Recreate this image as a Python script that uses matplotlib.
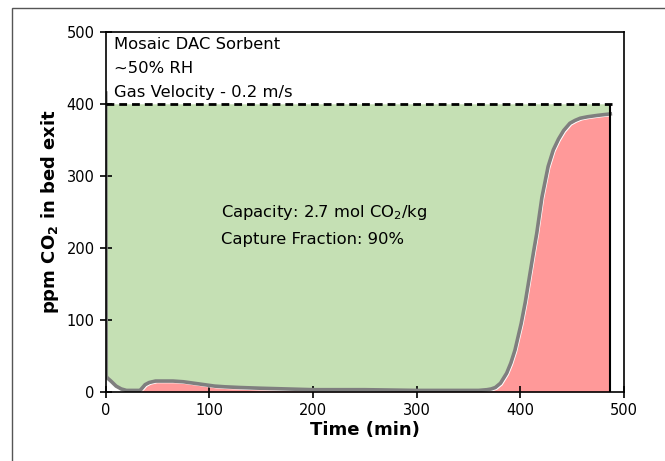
import matplotlib
matplotlib.use("Agg")
import matplotlib.pyplot as plt
import matplotlib.transforms as mtransforms
from matplotlib.patches import Rectangle
import numpy as np

# breakthrough curve
time_min = [0, 0.5, 1, 5, 10, 15, 20, 25, 33, 35, 38, 42, 48, 55, 65, 75, 85, 95,
            105, 115, 130, 150, 175, 200, 250, 300, 340, 360, 368, 372, 376, 381,
            387, 391, 395, 401, 405, 409, 413, 416, 421, 427, 432, 437, 442,
            448, 453, 458, 465, 475, 487]
ppm_co2 = [415, 22, 20, 15, 8, 4, 2, 2, 2, 5, 10, 13, 15, 15, 15, 14, 12, 10,
           8, 7, 6, 5, 4, 3, 3, 2, 2, 2, 3, 4, 6, 12,
           26, 40, 58, 95, 125, 160, 195, 220, 270, 313, 336, 351, 363,
           373, 377, 380, 382, 384, 386]
feed_ppm = 400
t_end = 487
red_start = 34

labels_top = ["Mosaic DAC Sorbent", "~50% RH", "Gas Velocity - 0.2 m/s"]
labels_mid = ["Capacity: 2.7 mol CO$_2$/kg", "Capture Fraction: 90%"]

t = np.array(time_min, dtype=float)
c = np.array(ppm_co2, dtype=float)

fig = plt.figure(figsize=(6.65, 4.61), dpi=100)
ax = fig.add_axes([0.159, 0.150, 0.779, 0.781])

# outer frame of the figure (only left and top edges visible)
fig.patches.append(Rectangle((12 / 665, -0.1), 1.2, (461 - 8) / 461 + 0.1,
                             transform=fig.transFigure, fill=False,
                             edgecolor="#555555", lw=1.0))

ax.fill_between(t, c, feed_ppm, where=(c <= feed_ppm) & (t > 0.4), color="#c5e0b4",
                lw=0, interpolate=True)
ax.fill_between(t, 0, c, where=t >= red_start, color="#ff9999", lw=0)

off = mtransforms.offset_copy(ax.transData, fig=fig, x=1.1, y=-1.1, units="points")
ax.plot(t[t >= red_start], c[t >= red_start], color="white", lw=1.1, transform=off)
ax.plot(t, c, color="#7f7f7f", lw=2.6, solid_joinstyle="round")

ax.plot([0, 489], [feed_ppm, feed_ppm], color="black", lw=2,
        linestyle=(0, (2.8, 1.8)))
ax.plot([t_end, t_end], [0, 397], color="black", lw=1.5)

for i, s in enumerate(labels_top):
    ax.text(8, 482 - i * 33, s, fontsize=11.8, va="center", ha="left")
for i, s in enumerate(labels_mid):
    ax.text(111, 249 - i * 37, s, fontsize=11.8, va="center", ha="left")

ax.set_xlim(0, 500)
ax.set_ylim(0, 500)
ax.set_xticks(range(0, 501, 100))
ax.set_yticks(range(0, 501, 100))
ax.tick_params(direction="inout", length=9, width=1.2, labelsize=10.5)
for sp in ax.spines.values():
    sp.set_linewidth(1.2)

ax.set_xlabel("Time (min)", fontsize=13, fontweight="bold", labelpad=2)
ax.set_ylabel(r"ppm CO$_\mathbf{2}$ in bed exit", fontsize=13, fontweight="bold",
              labelpad=4)

fig.savefig("out.png", dpi=100)
